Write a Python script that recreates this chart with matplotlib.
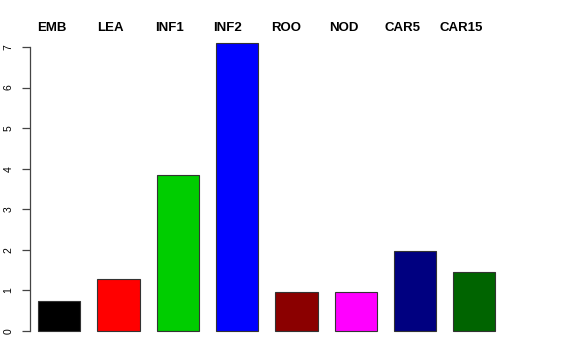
import numpy as np
import matplotlib
matplotlib.use('Agg')
import matplotlib.pyplot as plt

plt.rcParams['font.family'] = ['Liberation Sans', 'DejaVu Sans']

# tissue names and values
tissues = ['EMB', 'LEA', 'INF1', 'INF2', 'ROO', 'NOD', 'CAR5', 'CAR15']
values = [0.74, 1.28, 3.85, 7.10, 0.96, 0.96, 1.97, 1.45]
colors = ['#000000', '#FF0000', '#00CD00', '#0000FF',
          '#8B0000', '#FF00FF', '#000080', '#006400']

# R barplot style positions: width 1, space 0.4
x = 0.9 + 1.4 * np.arange(len(values))
label_x = 0.735 + 1.379 * np.arange(len(tissues))

W, H = 576, 360
fig = plt.figure(figsize=(W / 100, H / 100), dpi=100)
# axes placed in pixels: left 30, y from 31.4 to 342.5
ax = fig.add_axes([30 / W, (H - 342.5) / H, 520 / W, (342.5 - 31.4) / H])

ax.bar(x, values, width=1.0, color=colors, edgecolor='#333333', linewidth=0.8)

xmin = 0.4 - 8 / 42.36
ax.set_xlim(xmin, xmin + 520 / 42.36)
ax.set_ylim(-0.284, 7.384)

for sp in ['top', 'right', 'bottom']:
    ax.spines[sp].set_visible(False)
ax.spines['left'].set_bounds(0, 7)
ax.spines['left'].set_color('#444444')
ax.spines['left'].set_linewidth(0.9)

ax.set_xticks([])
ax.set_yticks(range(0, 8))
ax.tick_params(axis='y', length=6, width=0.9, color='#444444', pad=6,
               labelsize=7.5, labelrotation=90)
for t in ax.get_yticklabels():
    t.set_va('center')

# tissue labels above the plot
for lx, name in zip(label_x, tissues):
    ax.text(lx, 7.47, name, ha='center', va='center', fontsize=9.5,
            fontweight='bold', clip_on=False)

fig.savefig('out.png', dpi=100)
